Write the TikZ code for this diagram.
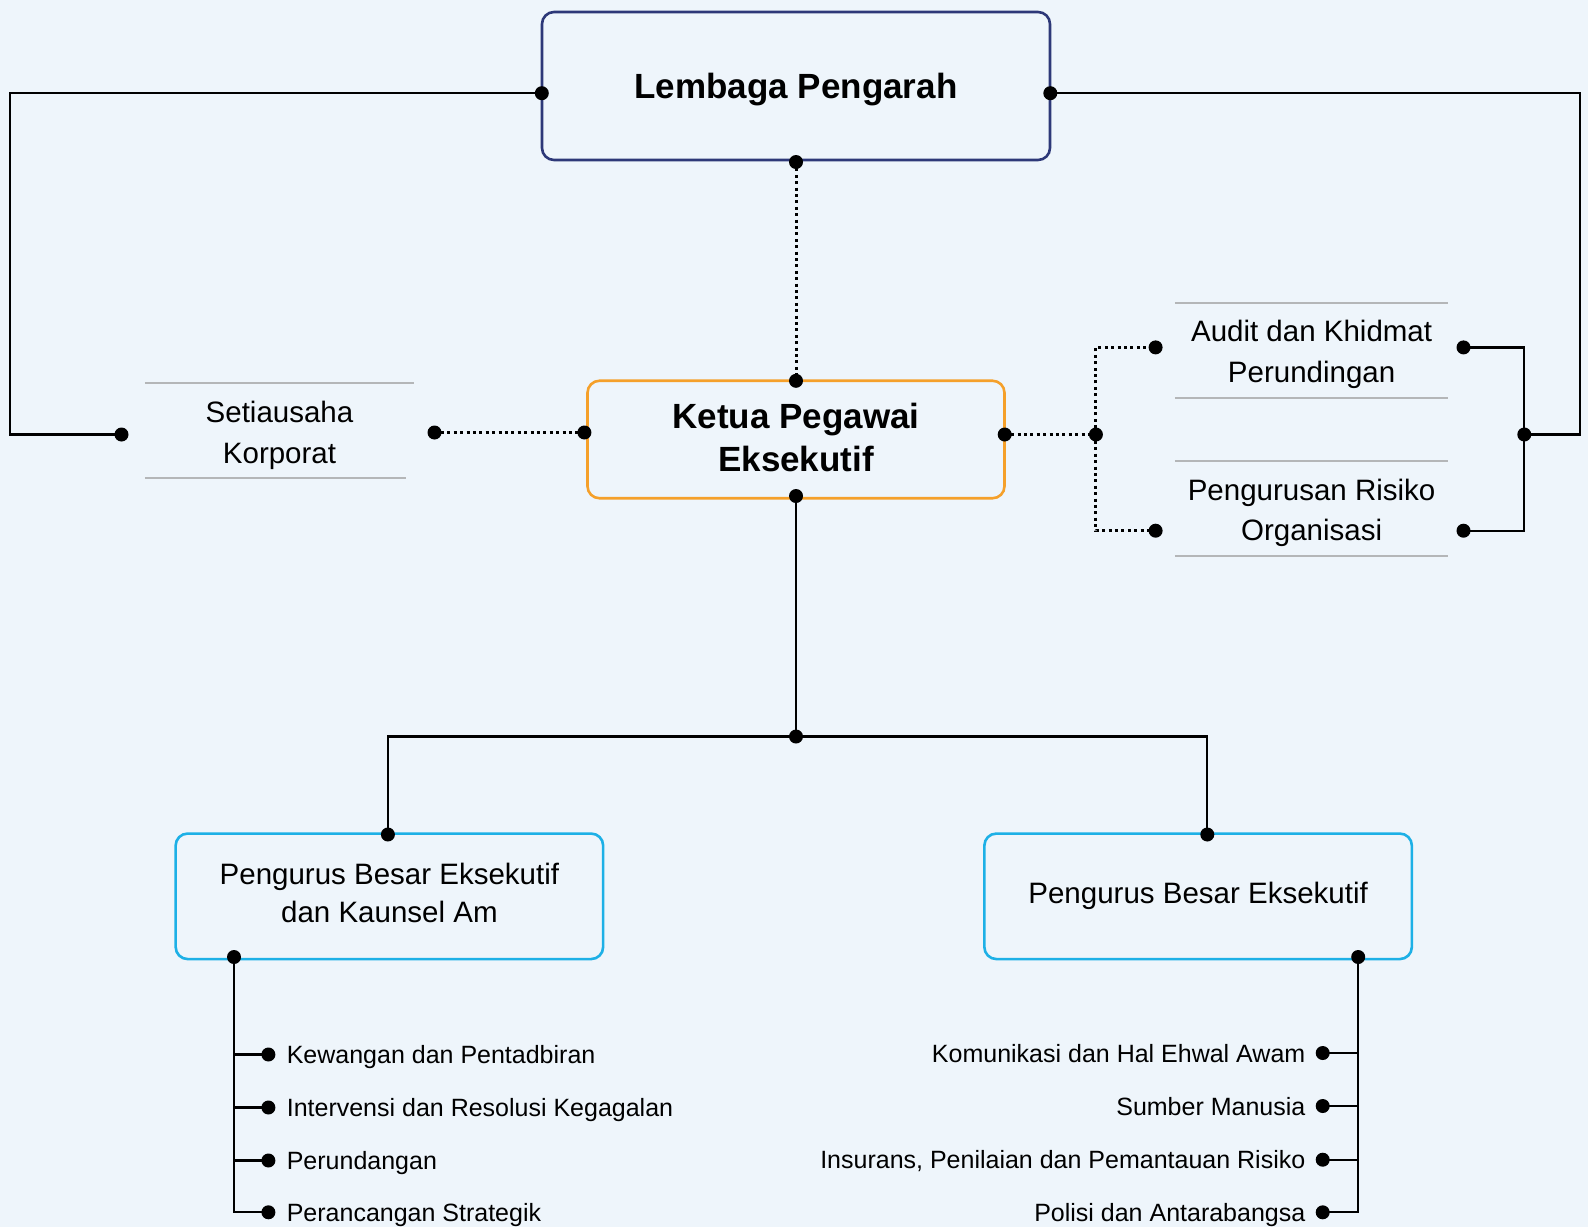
\documentclass[tikz,border=0pt]{standalone}
\usepackage{fontspec}
\setmainfont{Liberation Sans}
\definecolor{bgblue}{HTML}{EEF5FB}
\definecolor{navyline}{HTML}{2D3878}
\definecolor{orangeline}{HTML}{F5A02A}
\definecolor{cyanline}{HTML}{1DB0E6}
\definecolor{rulegray}{HTML}{B4B6B8}
\begin{document}
\begin{tikzpicture}[x=1pt,y=-1pt,
  wire/.style={line width=2.3pt,black},
  dotwire/.style={line width=3pt,black,dash pattern=on 3pt off 3.4pt},
  knob/.style={circle,fill=black,inner sep=0pt,minimum size=14pt},
  rule/.style={line width=2.2pt,draw=rulegray},
  box/.style={line width=2.6pt,rounded corners=12pt,fill=bgblue,align=center},
  topbox/.style={draw=navyline,minimum width=508pt,minimum height=148pt,text height=25pt,text depth=0pt,font=\bfseries\fontsize{35}{42}\selectfont},
  ceobox/.style={draw=orangeline,minimum width=417pt,minimum height=117.5pt,text height=63.6pt,text depth=0pt,font=\bfseries\fontsize{35}{42.8}\selectfont},
  unitbox/.style={draw=cyanline,minimum width=427.5pt,minimum height=125.5pt,font=\fontsize{29.5}{37.5}\selectfont},
  sidelabel/.style={align=center,font=\fontsize{29.5}{40.5}\selectfont},
  item/.style={inner sep=0pt,text height=18pt,text depth=0pt,font=\fontsize{25}{30}\selectfont}]

  \fill[bgblue] (0,0) rectangle (1588,1227);
  \useasboundingbox (0,0) rectangle (1588,1227);

  \node[box,topbox] (lp) at (796,86) {Lembaga Pengarah};
  \node[box,ceobox] (ceo) at (796,439.5) {Ketua Pegawai\\Eksekutif};
  \node[box,unitbox,text height=51.4pt,text depth=0pt] (pbk) at (389.4,896.3) {Pengurus Besar Eksekutif\\dan Kaunsel Am};
  \node[box,unitbox] (pbe) at (1198.1,896.3) {Pengurus Besar Eksekutif};

  \node[sidelabel] (sk) at (279.5,435.5) {Setiausaha\\Korporat};
  \node[sidelabel] (adt) at (1311.6,354.5) {Audit dan Khidmat\\Perundingan};
  \node[sidelabel] (rsk) at (1311.6,513) {Pengurusan Risiko\\Organisasi};

  \draw[rule] (144.8,382.8) -- (414.2,382.8);
  \draw[rule] (144.8,478) -- (406,478);
  \foreach \y in {302.8,398,460.8,556}
     \draw[rule] (1174.8,\y) -- (1448.3,\y);

  \node[knob] (lpW) at (541.8,93.2) {};
  \node[knob] (lpE) at (1050.3,93.2) {};
  \node[knob] (lpS) at (796,162) {};
  \node[knob] (ceoN) at (796,380.8) {};
  \node[knob] (ceoW) at (584.4,432.5) {};
  \node[knob] (ceoE) at (1004.7,434.5) {};
  \node[knob] (ceoS) at (796,496) {};
  \node[knob] (skL) at (121.5,434.5) {};
  \node[knob] (skR) at (434.5,432.5) {};
  \node[knob] (jR) at (1095.9,434.5) {};
  \node[knob] (adL) at (1155.6,347.4) {};
  \node[knob] (rsL) at (1155.6,530.7) {};
  \node[knob] (adR) at (1463.5,347.4) {};
  \node[knob] (rsR) at (1463.5,530.7) {};
  \node[knob] (jB) at (1524.3,434.5) {};
  \node[knob] (jM) at (796,736.5) {};
  \node[knob] (pbkN) at (387.9,834.5) {};
  \node[knob] (pbeN) at (1207.3,834.5) {};
  \node[knob] (pbkS) at (234,957) {};
  \node[knob] (pbeS) at (1358.2,957) {};

  \coordinate (cornerL) at (10.1,93.2);
  \coordinate (cornerR) at (1580,93.2);

  \draw[wire] (lpW.center) -- (cornerL) |- (skL.center);
  \draw[wire] (jB.center) -| (cornerR) -- (lpE.center);
  \draw[wire] (adR.center) -| (jB.center) |- (rsR.center);

  \draw[dotwire] (lpS.center) -- (ceoN.center);
  \draw[dotwire] (skR.center) -- (ceoW.center);
  \draw[dotwire] (ceoE.center) -- (jR.center);
  \draw[dotwire] (jR.center) |- (adL.center);
  \draw[dotwire] (jR.center) |- (rsL.center);

  \draw[wire] (ceoS.center) -- (jM.center);
  \draw[wire] (pbkN.center) |- (jM.center);
  \draw[wire] (pbeN.center) |- (jM.center);

  \foreach \y/\txt [count=\i] in {1054.5/Kewangan dan Pentadbiran, 1107.5/Intervensi dan Resolusi Kegagalan, 1160.5/Perundangan, 1212.3/Perancangan Strategik}{
    \node[knob] (kd\i) at (268.4,\y) {};
    \node[item,anchor=west] (kt\i) at (286.6,\y) {\txt};
    \draw[wire] (kd\i.center) -- (kd\i.center -| pbkS.center);
  }
  \draw[wire] (pbkS.center) |- (kd4.center);

  \foreach \y/\txt [count=\i] in {1053/Komunikasi dan Hal Ehwal Awam, 1106/Sumber Manusia, 1159.7/{Insurans, Penilaian dan Pemantauan Risiko}, 1212.3/Polisi dan Antarabangsa}{
    \node[knob] (pd\i) at (1322.7,\y) {};
    \node[item,anchor=east] (pt\i) at (1305.5,\y) {\txt};
    \draw[wire] (pd\i.center) -- (pd\i.center -| pbeS.center);
  }
  \draw[wire] (pbeS.center) |- (pd4.center);
\end{tikzpicture}
\end{document}
